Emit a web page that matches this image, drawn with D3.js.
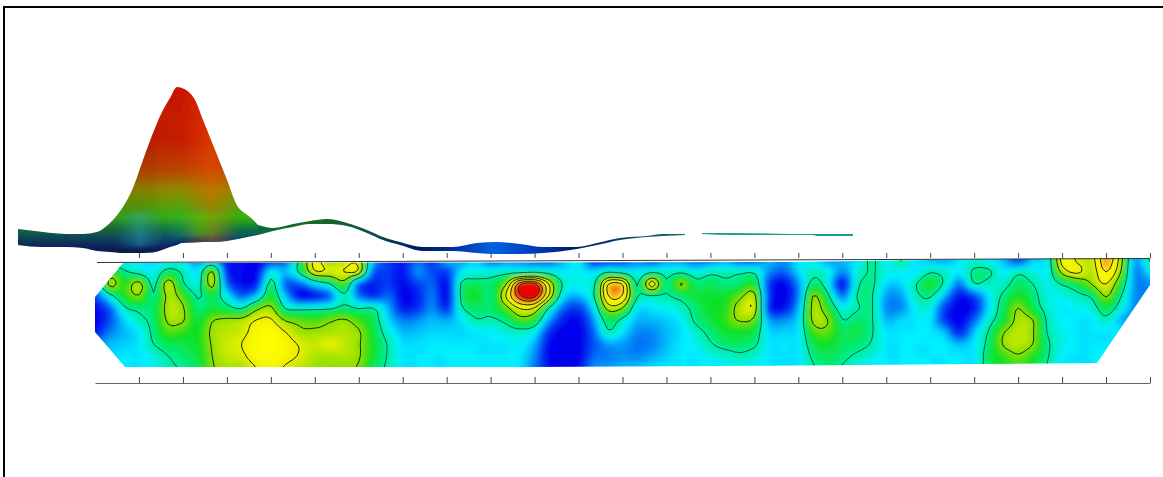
<!DOCTYPE html>
<html>
<head>
<meta charset="utf-8">
<script src="https://cdn.jsdelivr.net/npm/d3@7"></script>
<style>
html, body { margin: 0; padding: 0; background: #fff; overflow: hidden; }
svg { display: block; }
</style>
</head>
<body>
<script>
// surface profile, left part with the big peak (screen-read px)
var peakX = [18,43,67,83,97,110,123,133,143,153,162,170,177,182,195,203,213,227,238,243,250,258];
var peakTop = [229,232,234,234,232,223,207,188,160,133,112,98,87,88,100,120,145,180,207,212,217,225];
var peakBottom = [245,247,247,248,251,252,253,253,253,252.5,250,247,245,243,242.5,242,242,241,239,238,236.5,235];

// surface profile, the low hill and the valley
var valleyX = [258,273,293,310,327,347,367,383,400,423,453,477,497,520,543,577,597,620,647,663,685];
var valleyTop = [225,228,224,221,219,223,230,237,242,247,247,243,242,244,247,247,243,238,236,234,234];
var valleyBottom = [235,231,227,224,224,226,233,240,245,251,251,253,254,254,253,249,245,240,237,236,235];

// thin teal strip on the right
var flatX = [702,733,813,817,853];
var flatTop = [233,233,234,234,234];
var flatBottom = [234,235,235,236,236];

// section values, one array per column, top to bottom
var depthColumns = [
  [2,2,2.5,1.2,0.2,0,0.4,2,2.5,2.5],
  [3,5,6.3,3.5,1.5,1.2,1.8,2.5,2.8,3],
  [3,4.2,5.2,5.1,3.8,2.8,2.5,2.7,3,3],
  [3,3.6,6.4,5.9,4.3,3.7,3,3,3,3],
  [2.8,3.2,3.7,4.1,4.5,4.4,4.3,4,3.4,3.2],
  [3,4.5,6.6,6.3,6.4,6.2,5.5,4.6,4,3.8],
  [3,3.8,4.2,5.5,6.1,6.1,5.3,4.7,4.4,4.1],
  [2,3,3.4,3.9,4.3,4.8,5,5,4.8,4.5],
  [2.5,6.1,6.4,4.7,4.8,5.9,6.2,6.1,6,5.9],
  [0.6,0.8,1.6,3.2,4.4,6.2,6.5,6.7,6.6,6.3],
  [0.3,0.2,0.3,1.5,3.9,6.3,6.7,7,6.8,6.3],
  [0,0.1,0.6,2.6,5.6,7,7.4,7.6,7.5,7],
  [0.8,3.2,4.4,5,6.2,7.1,7.6,7.8,7.6,7.3],
  [1.5,2.5,1.5,2.5,3.9,5.9,7,7.4,7.3,6.9],
  [4.5,4.3,1.5,0.2,3.6,5.6,6.2,6.9,6.9,6.5],
  [7.3,6.8,3,0.5,3.7,5.4,6.2,6.6,6.4,6.2],
  [6,6.8,3.9,1.5,3.8,5.8,6.3,7,6.3,6.1],
  [6.5,7,5.5,3.8,4.3,6.1,6.4,6.6,6.4,6.1],
  [6.6,6.6,1.5,1.8,3.9,5.4,6.1,6.1,6.1,5.9],
  [2.5,1.5,0.6,0.8,3.95,4.6,4.8,5,4.9,4.6],
  [1,1,1,1.6,2.4,2.9,3.5,3.9,3.9,3.8],
  [0.5,0.4,0.2,0.1,0.5,1.8,2.5,2.9,3,3],
  [1.5,2,1,0.5,0.8,2,2.6,2.9,3,3],
  [1,1.2,1.5,1.8,2,2.5,2.8,3,3,3],
  [2.5,1,0.3,0.2,0.8,2.3,2.8,3,3,3],
  [2.2,3,4.1,4.2,3.8,3,2.8,3,3,3],
  [2.8,3.3,4.5,5,4.5,3.9,3,3,3,3],
  [1.5,3.4,4.4,4.2,4.4,3.8,3.1,3,3,3],
  [2,3.6,5.8,6.9,5.6,4.3,3.4,3,3,3],
  [2,3.7,9.5,9.5,7.1,5.5,3.6,3.2,3,3],
  [1.5,3.9,9.9,9.9,6.9,5,3.2,2.4,2,1.8],
  [1.5,3.5,6.9,6.8,3.9,2.2,0.8,0.2,0.1,0.2],
  [2.5,3,3.7,3,1.5,0.5,0,0,0,0],
  [3,3.2,3.3,2.5,1,0.2,0,0,0,0.2],
  [0.8,2.9,3.6,3.8,2.9,2,1.5,1.2,1.5,2],
  [0.8,3.9,7.9,7.9,6.4,4.6,3.8,2.2,1.8,2.2],
  [1,3.6,7.9,7.9,6,3.7,3,2.2,2,2.5],
  [1.8,3.1,3.9,4.1,3,2.5,2,1.7,1.9,2.6],
  [1.2,3.8,7.5,3.9,3,2.5,2,1.9,2.3,2.8],
  [2,3.6,4.1,3.9,3.2,2.7,2.5,2.5,2.7,3],
  [2,3.8,6.1,4.4,3.6,3.1,2.9,3,3,3],
  [1.5,3.3,4.4,4.8,4.4,4.2,3.6,3.2,3,3],
  [1.8,3.7,4.6,4.9,5,4.8,4.3,3.9,3.3,3],
  [2.2,3.7,4.2,5,5.2,5.3,4.9,4.4,3.5,3.1],
  [1.4,3.8,4.4,5.7,6.4,6.1,5,4.5,3.8,3.1],
  [1.5,3.8,5,6.3,6.6,5.7,4.7,4.2,3.5,3.1],
  [2.5,2,1,1,0.8,2.2,2.8,3,3,3],
  [2,1.5,0.1,0,0.3,2,2.8,3,3,3],
  [3,2.8,2,1.8,2.4,2.9,3,3,3,3],
  [3,3.7,4.4,6,6.3,6.2,5.4,4.7,4.2,3.9],
  [2.2,3.3,3.3,4.3,5.2,6,5.7,5,4.6,4.3],
  [2.5,2,0.4,1.8,3.3,4.05,4.6,4.5,4.3,3.9],
  [3,3.3,3.7,4,3.9,4.4,4.7,4.4,3.8,3.2],
  [4.2,4.1,4.2,4.1,4.1,4.1,4.1,3.9,3.4,3],
  [3,3.3,2.8,2.2,2,2.5,3,3,3,3],
  [4.05,3.2,2.8,2.2,2,2.8,3,3,3,3],
  [3,3,3.9,3.7,3.2,3,3,3,3,3],
  [2.5,3.9,5,4.1,3.3,3,3,3,3,3],
  [2.3,3.6,3.7,2.4,1,0.9,2.5,3,3,3],
  [3,3,1.8,0.4,0,0,0.6,2.5,3,3],
  [3.4,4.2,3.9,1.2,0.5,1.5,2.6,3,3,3],
  [3,4.2,3.6,3,2.9,3.5,4.1,4.4,4.6,4.6],
  [2.6,3,3.6,4.2,4.6,4.8,5.9,6.1,5.3,5],
  [1.2,3.7,4.5,5,6,6.3,6.5,6.5,5.9,5.3],
  [2.7,3.4,4,4.4,4.7,6,6.1,6,5.2,4.8],
  [3.2,3.2,3.3,3.3,3.6,3.8,3.95,4.2,4.1,3.9],
  [7.4,6.3,4.1,3.3,3,3.1,3.3,3.3,3.1,3],
  [6.9,7.2,4.8,3.7,3.2,3,3,3,3,3],
  [6.6,6.4,6,4.2,3.4,3,3,3,3,3],
  [8.6,8,7,6.1,4.7,3.7,3,3,3,3],
  [6.5,6,5,4.1,3.4,2.5,3,3,3,3],
  [2.2,2,2,2,2,2,3,3,3,3],
  [4.1,3,2,2,2,2,3,3,3,3]
];

var contourLevels = [4, 6, 7, 8, 9, 9.7];
var tickPositions = d3.range(1, 25);

var width = 1163;
var height = 477;

var svg = d3.select("body").append("svg")
	.attr("width", width)
	.attr("height", height);

var defs = svg.append("defs");

svg.append("rect").attr("width", width).attr("height", height).attr("fill", "#fff");

// frame, only top and left in the picture
svg.append("path")
	.attr("d", "M4,477V7H1163")
	.attr("fill", "none")
	.attr("stroke", "#000")
	.attr("stroke-width", 2);

// ---- surface -------------------------------------------------------
function addGradient(id, horizontal, from, to, stops) {
	var g = defs.append("linearGradient")
		.attr("id", id)
		.attr("gradientUnits", "userSpaceOnUse")
		.attr("x1", horizontal ? from : 0)
		.attr("x2", horizontal ? to : 0)
		.attr("y1", horizontal ? 0 : from)
		.attr("y2", horizontal ? 0 : to);
	stops.forEach(function(s) {
		g.append("stop")
			.attr("offset", (s[0] - from) / (to - from))
			.attr("stop-color", s[1])
			.attr("stop-opacity", s[2] === undefined ? 1 : s[2]);
	});
}

addGradient("peakFill", false, 87, 253, [
	[87, "#c81400"], [140, "#c41e00"], [170, "#b84400"], [190, "#8f8a04"],
	[205, "#5aa008"], [218, "#30b010"], [228, "#0f7a40"], [238, "#064a68"],
	[248, "#001c66"], [253, "#001a50"]
]);
addGradient("flankFill", true, 120, 250, [
	[120, "#402000", 0.15], [150, "#402000", 0.1], [180, "#ff5000", 0], [212, "#ff5a00", 0.4], [240, "#ff5000", 0]
]);
addGradient("baseFill", true, 115, 250, [
	[115, "#30a0b0", 0], [140, "#30a8c0", 0.45], [165, "#30a0b0", 0],
	[200, "#50c800", 0.5], [235, "#50c800", 0], [250, "#50c800", 0]
]);
addGradient("valleyFill", true, 258, 685, [
	[258, "#0a6a40"], [320, "#1a6a20"], [370, "#0a5050"], [420, "#001a60"], [455, "#0030a0"],
	[492, "#0062e0"], [530, "#0040c0"], [572, "#001a70"], [620, "#0a4060"], [685, "#0a7070"]
]);

defs.append("filter").attr("id", "soft")
	.attr("filterUnits", "userSpaceOnUse")
	.attr("x", 0).attr("y", 0).attr("width", width).attr("height", height)
	.append("feGaussianBlur").attr("stdDeviation", 2);
defs.append("filter").attr("id", "softer")
	.attr("filterUnits", "userSpaceOnUse")
	.attr("x", 0).attr("y", 0).attr("width", width).attr("height", height)
	.append("feGaussianBlur").attr("stdDeviation", 0.45);

function band(xs, top, bottom) {
	return d3.area()
		.x(function(d, i) { return xs[i]; })
		.y0(function(d, i) { return bottom[i]; })
		.y1(function(d, i) { return top[i]; })
		.curve(d3.curveMonotoneX)(xs);
}

var peakPath = band(peakX, peakTop, peakBottom);
defs.append("clipPath").attr("id", "peakClip").append("path").attr("d", peakPath);

var surface = svg.append("g").attr("filter", "url(#softer)");
surface.append("path").attr("d", peakPath).attr("fill", "url(#peakFill)");
surface.append("path").attr("d", peakPath).attr("fill", "url(#flankFill)");
surface.append("g").attr("clip-path", "url(#peakClip)")
	.append("path")
	.attr("d", band(peakX, peakTop.map(function(y) { return Math.max(y, 212); }), peakBottom.map(function(y) { return y - 6; })))
	.attr("fill", "url(#baseFill)")
	.attr("filter", "url(#soft)");
surface.append("path").attr("d", band(valleyX, valleyTop, valleyBottom)).attr("fill", "url(#valleyFill)");
surface.append("path").attr("d", band(flatX, flatTop, flatBottom)).attr("fill", "#12a090");

// ---- section -------------------------------------------------------
var nCols = depthColumns.length;
var nRows = depthColumns[0].length;

// the contouring runs on a finer raster read smoothly between the columns,
// with a margin of repeated edge so contours close outside the clip
var fine = 4;
var margin = 2 * fine;
var gridW = (nCols - 1) * fine + 1 + 2 * margin;
var gridH = (nRows - 1) * fine + 1 + 2 * margin;

function cubic(a, b, c, d, t) {
	return b + 0.5 * t * (c - a + t * (2 * a - 5 * b + 4 * c - d + t * (3 * (b - c) + d - a)));
}
function cell(c, r) {
	return depthColumns[Math.max(0, Math.min(nCols - 1, c))][Math.max(0, Math.min(nRows - 1, r))];
}
function sample(u, v) {
	var c = Math.floor(u), r = Math.floor(v), tu = u - c, tv = v - r;
	var rows = [-1, 0, 1, 2].map(function(dr) {
		return cubic(cell(c - 1, r + dr), cell(c, r + dr), cell(c + 1, r + dr), cell(c + 2, r + dr), tu);
	});
	return cubic(rows[0], rows[1], rows[2], rows[3], tv);
}

var grid = new Array(gridW * gridH);
for (var j = 0; j < gridH; j++) {
	for (var i = 0; i < gridW; i++) {
		grid[j * gridW + i] = sample((i - margin) / fine, (j - margin) / fine);
	}
}

var x = d3.scaleLinear().domain([0, nCols - 1]).range([95, 1150]);
var y = d3.scaleLinear().domain([0, nRows - 1]).range([260, 368]);

var colour = d3.scaleLinear()
	.domain([0, 1, 2, 3, 4, 5, 6, 7, 7.7, 8.4, 9, 9.6])
	.range(["#0000ee", "#0040f4", "#0092f8", "#00f0ff", "#00ee90", "#10e020", "#90e000", "#f0f000", "#ffff00", "#f4a820", "#f03010", "#ee0000"])
	.clamp(true);

var ring = d3.line()
	.x(function(p) { return x((p[0] - 0.5 - margin) / fine); })
	.y(function(p) { return y((p[1] - 0.5 - margin) / fine); });

function contourPath(level) {
	var c = d3.contours().size([gridW, gridH]).contour(grid, level);
	return c.coordinates.map(function(poly) {
		return poly.map(function(r) { return ring(r) + "Z"; }).join("");
	}).join("");
}

// outline of the section, the corners are cut off
var outline = [[123,263],[790,262],[1000,259],[1150,258],[1150,285],[1097,363],[973,364],[800,365.5],[530,367],[125,367],[95,332],[95,297]];
defs.append("clipPath").attr("id", "sectionClip")
	.append("polygon").attr("points", outline.join(" "));

var section = svg.append("g").attr("clip-path", "url(#sectionClip)");

var fills = section.append("g").attr("filter", "url(#soft)");
fills.append("rect").attr("x", 60).attr("y", 230).attr("width", 1120).attr("height", 170).attr("fill", colour(0));
fills.selectAll("path")
	.data(d3.range(0.15, 10, 0.15))
	.enter()
	.append("path")
	.attr("d", contourPath)
	.attr("fill", colour)
	.attr("fill-rule", "evenodd");

section.append("g")
	.attr("filter", "url(#softer)")
	.selectAll("path")
	.data(contourLevels)
	.enter()
	.append("path")
	.attr("d", contourPath)
	.attr("fill", "none")
	.attr("stroke", function(d) { return d === 4 ? "#0b5a58" : "#1c2a14"; })
	.attr("stroke-width", 1);

// ---- top line and the two tick rows --------------------------------
var k = d3.scaleLinear().domain([0, 24]).range([95, 1150]);

svg.append("line")
	.attr("x1", 97).attr("y1", 262.5).attr("x2", 1150).attr("y2", 258.5)
	.attr("stroke", "#333").attr("stroke-width", 1);

var axisTop = d3.axisTop(k).tickValues(tickPositions).tickSize(5).tickFormat("");
svg.append("g").attr("class", "axis").attr("transform", "translate(0,258)").call(axisTop);
svg.select(".axis .domain").remove();

var axisBottom = d3.axisTop(k).tickValues(tickPositions).tickSizeInner(6).tickSizeOuter(0).tickFormat("");
svg.append("g").attr("class", "axis2").attr("transform", "translate(0,383)").call(axisBottom);
svg.selectAll(".axis line, .axis2 line").attr("stroke", "#444");
svg.select(".axis2 .domain").attr("stroke", "#666");
</script>
</body>
</html>
